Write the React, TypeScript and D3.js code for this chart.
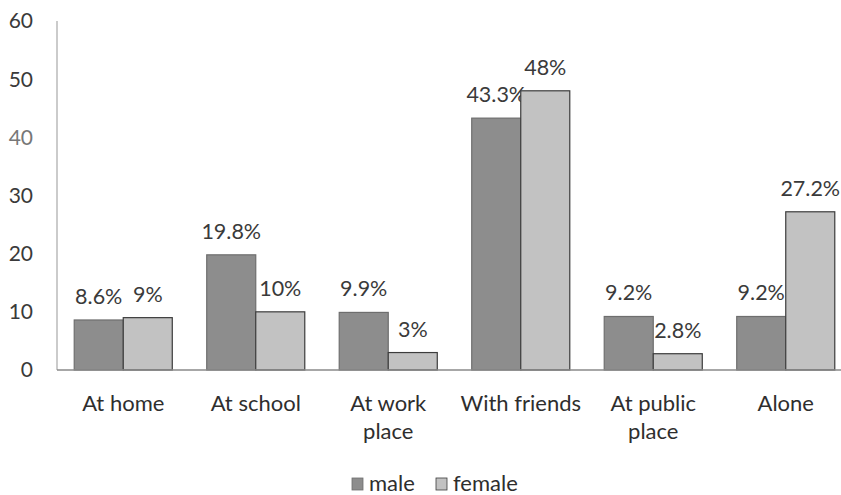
import React from "react";
import * as d3 from "d3";

const categories: string[][] = [
  ["At home"],
  ["At school"],
  ["At work", "place"],
  ["With friends"],
  ["At public", "place"],
  ["Alone"],
];
const series = ["male", "female"];
const maleValues = [8.6, 19.8, 9.9, 43.3, 9.2, 9.2];
const femaleValues = [9, 10, 3, 48, 2.8, 27.2];
const yTicks = [0, 10, 20, 30, 40, 50, 60];

const W = 841;
const H = 495;
const FONT = "Lato, 'Open Sans', sans-serif";
const fills = { male: "#8d8d8d", female: "#c2c2c2" };
const strokes = { male: "#6e6e6e", female: "#3c3c3c" };

export default function App() {
  const left = 57;
  const band = 132.5;
  const x = d3
    .scaleBand<number>()
    .domain(d3.range(categories.length))
    .range([left, left + band * categories.length])
    .paddingInner(0.26)
    .paddingOuter(0.13);
  const inner = d3.scaleBand<string>().domain(series).range([0, x.bandwidth()]);
  const y = d3.scaleLinear().domain([0, 60]).range([370, 21]);

  const rows = [maleValues, femaleValues];

  return (
    <svg
      width={W}
      height={H}
      style={{ position: "absolute", left: 0, top: 0, background: "#fff" }}
      fontFamily={FONT}
    >
      <rect width={W} height={H} fill="#fff" />
      {/* y axis */}
      <line x1={left} x2={left} y1={y(60)} y2={y(0)} stroke="#a8a8a8" strokeWidth={1.2} />
      {yTicks.map((t) => (
        <text
          key={t}
          x={33}
          y={y(t)}
          dy="0.35em"
          textAnchor="end"
          fontSize={21}
          fill={t === 40 ? "#777" : "#3a3a3a"}
        >
          {t}
        </text>
      ))}
      {/* bars */}
      {categories.map((_, i) =>
        series.map((s, j) => {
          const v = rows[j][i];
          const bx = (x(i) as number) + (inner(s) as number);
          const bw = inner.bandwidth();
          return (
            <g key={`${i}-${s}`}>
              <rect
                x={bx}
                y={y(v)}
                width={bw}
                height={y(0) - y(v)}
                fill={fills[s as "male" | "female"]}
                stroke={strokes[s as "male" | "female"]}
                strokeWidth={1.2}
              />
              <text
                x={bx + bw / 2}
                y={y(v) - 16}
                textAnchor="middle"
                fontSize={21.5}
                fill="#3a3a3a"
              >
                {`${v}%`}
              </text>
            </g>
          );
        })
      )}
      {/* baseline */}
      <line x1={left} x2={W} y1={y(0)} y2={y(0)} stroke="#8a8a8a" strokeWidth={1.4} />
      {/* category labels */}
      {categories.map((lines, i) => (
        <text
          key={i}
          x={(x(i) as number) + x.bandwidth() / 2}
          y={411}
          textAnchor="middle"
          fontSize={22}
          fill="#2e2e2e"
        >
          {lines.map((l, k) => (
            <tspan key={k} x={(x(i) as number) + x.bandwidth() / 2} dy={k === 0 ? 0 : 28}>
              {l}
            </tspan>
          ))}
        </text>
      ))}
      {/* legend */}
      {series.map((s, j) => {
        const lx = j === 0 ? 352 : 436;
        return (
          <g key={s}>
            <rect
              x={lx}
              y={478}
              width={11}
              height={12}
              fill={fills[s as "male" | "female"]}
              stroke={strokes[s as "male" | "female"]}
              strokeWidth={0.8}
            />
            <text x={lx + 17} y={491} fontSize={22} fill="#2e2e2e">
              {s}
            </text>
          </g>
        );
      })}
    </svg>
  );
}
